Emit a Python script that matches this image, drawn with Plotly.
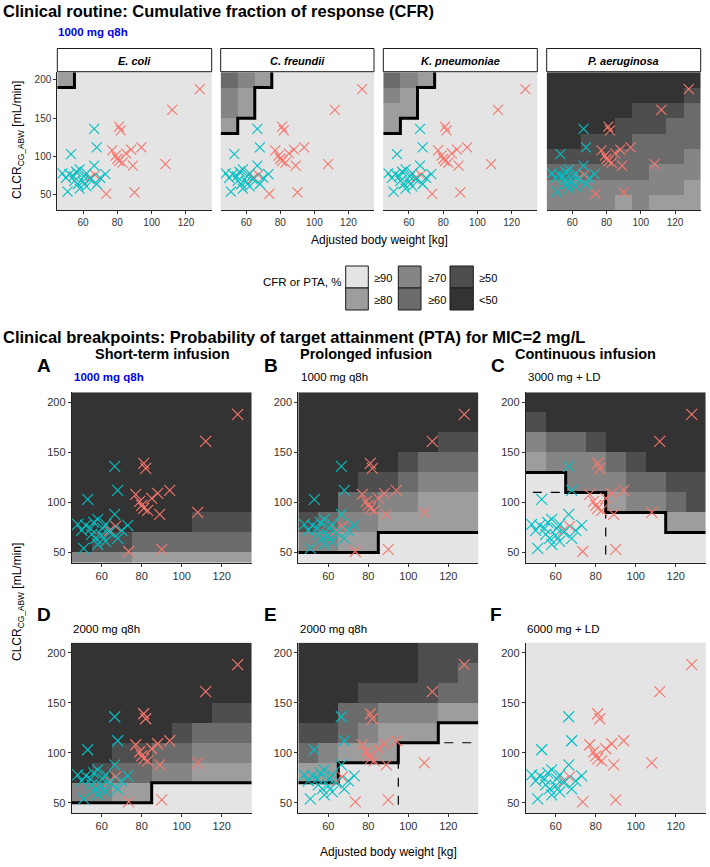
import plotly.graph_objects as go

W, H = 710, 867

# ---------------- data ----------------
X_CENTERS = [50, 60, 70, 80, 90, 100, 110, 120, 130]
Y_CENTERS = [200, 180, 160, 140, 120, 100, 80, 60, 40]   # grid rows, top -> bottom
X_TICKS = [60, 80, 100, 120]
Y_TICKS = [50, 100, 150, 200]

LEVEL_LABELS = ["≥90", "≥80", "≥70", "≥60", "≥50", "<50"]
LEVEL_COLORS = ["#e4e4e4", "#9d9d9d", "#858585", "#6b6b6b", "#4e4e4e", "#333333"]

ORGANISMS = ["E. coli", "C. freundii", "K. pneumoniae", "P. aeruginosa"]

# level index per tile: 0 = >=90 ... 5 = <50 ; rows y=200 (top) ... y=40 (bottom), cols x=50..130
CFR_ECOLI = ["100000000", "000000000", "000000000", "000000000", "000000000",
             "000000000", "000000000", "000000000", "000000000"]
CFR_CFREUNDII = ["321000000", "210000000", "210000000", "100000000", "000000000",
                 "000000000", "000000000", "000000000", "000000000"]
CFR_KPNEUMONIAE = ["321000000", "210000000", "110000000", "100000000", "000000000",
                   "000000000", "000000000", "000000000", "000000000"]
CFR_PAERUGINOSA = ["555555555", "555555554", "555554443", "555544433", "554443333",
                   "444433332", "333333222", "222222221", "222212111"]

PTA_A = ["555555555", "555555555", "555555555", "555555555", "555555555",
         "555555555", "555555444", "544333333", "222111111"]
PTA_B = ["555555555", "555555555", "555555544", "555554333", "555443222",
         "553322111", "432211111", "221100000", "000000000"]
PTA_C = ["555555555", "455555555", "233455555", "122234555", "002223344",
         "000012234", "000000011", "000000000", "000000000"]
PTA_D = ["555555555", "555555555", "555555555", "555555544", "555554333",
         "554433222", "543322111", "221100000", "000000000"]
PTA_E = ["555555444", "555555443", "555444433", "553322211", "443211100",
         "321110000", "110000000", "000000000", "000000000"]
PTA_F = ["000000000"] * 9

# alternative-target region (dashed outline), 1 = inside
DASH_C = ["000000000", "000000000", "000000000", "000000000", "000000000",
          "111100000", "111100000", "111100000", "111100000"]
DASH_E = ["000000000", "000000000", "000000000", "000000000", "000000000",
          "000001111", "000001111", "000001111", "000001111"]

PANEL_LETTERS = ["A", "B", "C", "D", "E", "F"]
INFUSIONS = ["Short-term infusion", "Prolonged infusion", "Continuous infusion"]
DOSES = ["1000 mg q8h", "1000 mg q8h", "3000 mg + LD", "2000 mg q8h", "2000 mg q8h", "6000 mg + LD"]

# patients: adjusted body weight [kg], CLCR [mL/min]
TEAL_X = [66.5, 68, 53, 58, 52, 50, 54.5, 60.5, 66.5, 73, 57, 62, 68, 51, 60, 56, 64, 55, 62, 70, 48, 58]
TEAL_Y = [136, 112, 103, 83, 77, 72, 74, 74, 88, 77, 64, 61, 64, 54, 67, 80, 70, 68, 78, 72, 78, 58]
SALMON_X = [128, 112, 81, 82, 77, 79, 81, 83, 88, 94, 89, 108, 90, 73.5, 67, 64, 80, 85]
SALMON_Y = [188, 161, 139, 134, 108, 101, 94, 92, 109, 112, 88, 90, 53, 51, 76, 72, 97, 104]

# ---------------- helpers ----------------
FONT = "Liberation Sans, Arial, sans-serif"


def fx(px):
    return px / W


def fy(py):
    return 1 - py / H


def colorscale():
    n = len(LEVEL_COLORS)
    cs = []
    for i, c in enumerate(LEVEL_COLORS):
        cs.append([i / n, c])
        cs.append([(i + 1) / n, c])
    return cs


def boundary(mask_rows):
    rows = list(reversed(mask_rows))  # bottom -> top
    nr, nc = len(rows), len(rows[0])
    m = [[rows[r][c] for c in range(nc)] for r in range(nr)]
    edges = []
    for r in range(nr):
        for c in range(nc):
            if not m[r][c]:
                continue
            if c + 1 < nc and not m[r][c + 1]:
                edges.append(((c + 1, r), (c + 1, r + 1)))
            if c > 0 and not m[r][c - 1]:
                edges.append(((c, r), (c, r + 1)))
            if r + 1 < nr and not m[r + 1][c]:
                edges.append(((c, r + 1), (c + 1, r + 1)))
            if r > 0 and not m[r - 1][c]:
                edges.append(((c, r), (c + 1, r)))
    adj = {}
    for a, b in edges:
        adj.setdefault(a, []).append(b)
        adj.setdefault(b, []).append(a)
    used = set()

    def key(a, b):
        return (a, b) if a < b else (b, a)

    xs, ys = [], []
    starts = [v for v in adj if len(adj[v]) % 2 == 1] + list(adj.keys())
    for s in starts:
        while any(key(s, n) not in used for n in adj[s]):
            path = [s]
            cur = s
            while True:
                nb = [n for n in adj[cur] if key(cur, n) not in used]
                if not nb:
                    break
                n = nb[0]
                used.add(key(cur, n))
                path.append(n)
                cur = n
            for (i, j) in path:
                xs.append(X_CENTERS[0] - 5 + 10 * i)
                ys.append(Y_CENTERS[-1] - 10 + 20 * j)
            xs.append(None)
            ys.append(None)
    return xs, ys


# ---------------- panel geometry (pixels) ----------------
TOP_Y = (72.3, 210)
TOP_X = [(57.3, 211.7), (220.7, 374), (383.3, 537.3), (546.7, 700.7)]
ROW1_Y = (392.3, 562.5)
ROW2_Y = (642.7, 812.8)
BOT_X = [(71.7, 251.7), (298.3, 478.3), (525.7, 705.7)]

panels = []
for i, (org, grid) in enumerate(zip(ORGANISMS, [CFR_ECOLI, CFR_CFREUNDII, CFR_KPNEUMONIAE, CFR_PAERUGINOSA])):
    panels.append(dict(grid=grid, xd=TOP_X[i], yd=TOP_Y, yr=[30, 210], top=True, first=(i == 0),
                       dash=None, msize=10))
for i, (grid, dash) in enumerate(zip([PTA_A, PTA_B, PTA_C, PTA_D, PTA_E, PTA_F],
                                     [None, None, DASH_C, None, DASH_E, None])):
    panels.append(dict(grid=grid, xd=BOT_X[i % 3], yd=ROW1_Y if i < 3 else ROW2_Y, yr=[40, 210],
                       top=False, first=True, dash=dash, msize=11))

fig = go.Figure()
layout_axes = {}
for k, p in enumerate(panels, start=1):
    xa, ya = f"x{k}", f"y{k}"
    z = [[int(ch) for ch in row] for row in reversed(p["grid"])]
    fig.add_trace(go.Heatmap(x=X_CENTERS, y=list(reversed(Y_CENTERS)), z=z, zmin=-0.5,
                             zmax=len(LEVEL_COLORS) - 0.5, colorscale=colorscale(),
                             showscale=False, hoverinfo="skip", xaxis=xa, yaxis=ya))
    if p["dash"] is not None:
        mask = [[ch == "1" for ch in row] for row in p["dash"]]
        dx, dy = boundary(mask)
        fig.add_trace(go.Scatter(x=dx, y=dy, mode="lines", line=dict(color="black", width=1.2, dash="dash"),
                                 hoverinfo="skip", xaxis=xa, yaxis=ya))
    mask = [[ch == "0" for ch in row] for row in p["grid"]]
    sx, sy = boundary(mask)
    if sx:
        fig.add_trace(go.Scatter(x=sx, y=sy, mode="lines", line=dict(color="black", width=3),
                                 hoverinfo="skip", xaxis=xa, yaxis=ya))
    for xs, ys, col in [(SALMON_X, SALMON_Y, "#F8766D"), (TEAL_X, TEAL_Y, "#00BFC4")]:
        fig.add_trace(go.Scatter(x=xs, y=ys, mode="markers", hoverinfo="skip", xaxis=xa, yaxis=ya,
                                 marker=dict(symbol="x-thin-open", size=p["msize"], color=col,
                                             line=dict(color=col, width=1.1))))
    tickfont = dict(family=FONT, size=10 if p["top"] else 11, color="#333333")
    layout_axes[f"xaxis{k}"] = dict(domain=[fx(p["xd"][0]), fx(p["xd"][1])], range=[45, 135],
                                    anchor=ya, tickvals=X_TICKS, ticks="outside", ticklen=3,
                                    tickcolor="#333333", showline=True, linecolor="#222222", linewidth=1,
                                    showgrid=False, zeroline=False, tickfont=tickfont, fixedrange=True,
                                    automargin=False)
    layout_axes[f"yaxis{k}"] = dict(domain=[fy(p["yd"][1]), fy(p["yd"][0])], range=p["yr"],
                                    anchor=xa, tickvals=Y_TICKS, ticks="outside" if p["first"] else "",
                                    ticklen=3, tickcolor="#333333", showticklabels=p["first"],
                                    showline=p["first"], linecolor="#222222", linewidth=1,
                                    showgrid=False, zeroline=False, tickfont=tickfont, fixedrange=True,
                                    automargin=False)

shapes = []
annotations = []


def text(s, x, y, size, xanchor="left", bold=False, color="black", angle=0, yanchor="middle"):
    if bold:
        s = f"<b>{s}</b>"
    annotations.append(dict(text=s, x=fx(x), y=fy(y), xref="paper", yref="paper", showarrow=False,
                            xanchor=xanchor, yanchor=yanchor, textangle=angle, borderpad=0,
                            font=dict(family=FONT, size=size, color=color)))


# titles
text("Clinical routine: Cumulative fraction of response (CFR)", 2, 11, 16.5, bold=True)
text("1000 mg q8h", 57, 32, 11.5, bold=True, color="#0000EE")
text("Clinical breakpoints: Probability of target attainment (PTA) for MIC=2 mg/L", 2, 337, 16.5, bold=True)

# strips
for (x0, x1), org in zip(TOP_X, ORGANISMS):
    shapes.append(dict(type="rect", xref="paper", yref="paper", x0=fx(x0), x1=fx(x1), y0=fy(71.7),
                       y1=fy(48.5), fillcolor="white", line=dict(color="#1a1a1a", width=1)))
    text(f"<b><i>{org}</i></b>", (x0 + x1) / 2, 60.5, 11, xanchor="center")

# axis titles
text("Adjusted body weight [kg]", 380, 240, 12, xanchor="center")
text("CLCR<sub>CG_ABW</sub> [mL/min]", 18, 140, 12, xanchor="center", angle=-90)
text("CLCR<sub>CG_ABW</sub> [mL/min]", 18, 602, 12, xanchor="center", angle=-90)
text("Adjusted body weight [kg]", 388, 852, 12, xanchor="center")

# legend
text("CFR or PTA, %", 341.7, 282, 11.5, xanchor="right")
key_cols = [(345.7, 368.3, 373.3), (398.3, 421, 426.7), (450, 473.3, 478.3)]
for ci, (kx0, kx1, lx) in enumerate(key_cols):
    for ri in range(2):
        lev = ci * 2 + ri
        y0 = 266 + ri * 22
        shapes.append(dict(type="rect", xref="paper", yref="paper", x0=fx(kx0), x1=fx(kx1),
                           y0=fy(y0 + 22), y1=fy(y0), fillcolor=LEVEL_COLORS[lev],
                           line=dict(color="#1a1a1a", width=1)))
        text(LEVEL_LABELS[lev], lx, y0 + 11.5, 11)

# panel letters, infusion titles, dose labels
letter_pos = [(36, 365), (263, 365), (490, 365), (36, 614), (263, 614), (489, 614)]
for L, (lx, ly) in zip(PANEL_LETTERS, letter_pos):
    text(L, lx, ly, 19, bold=True)
inf_pos = [(162, 354, "center"), (299, 354, "left"), (514, 354, "left")]
for s, (ix, iy, anc) in zip(INFUSIONS, inf_pos):
    text(s, ix, iy, 14.5, xanchor=anc, bold=True)
dose_pos = [(72.7, 377), (299.5, 377), (526.5, 377), (71.7, 628.5), (299.3, 628.5), (526, 628.5)]
for i, (s, (dx_, dy_)) in enumerate(zip(DOSES, dose_pos)):
    if i == 0:
        text(s, dx_, dy_, 11.5, bold=True, color="#0000EE")
    else:
        text(s, dx_, dy_, 11.5)

fig.update_layout(width=W, height=H, margin=dict(l=0, r=0, t=0, b=0, pad=0, autoexpand=False),
                  paper_bgcolor="white",
                  plot_bgcolor=LEVEL_COLORS[0], showlegend=False, shapes=shapes, annotations=annotations,
                  **layout_axes)

fig.write_html("out.html", config={"displayModeBar": False},
               post_script="document.body.style.margin='0';document.body.style.overflow='hidden';"
                           "document.documentElement.style.overflow='hidden';")
